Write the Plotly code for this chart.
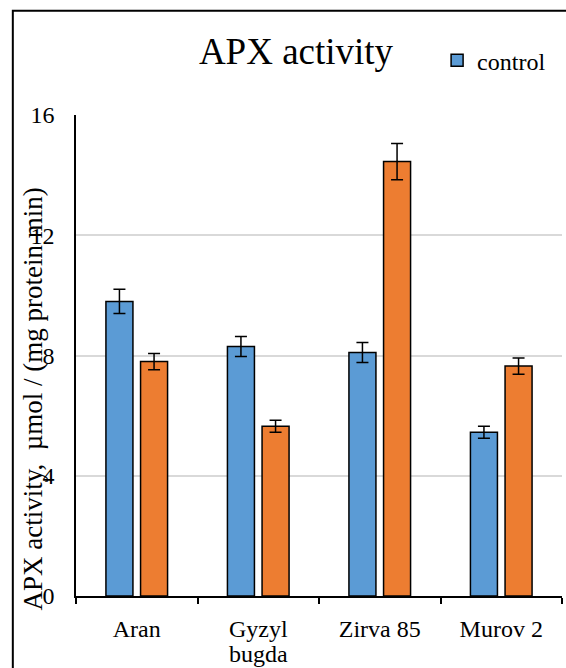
import plotly.graph_objects as go

categories = ["Aran", "Gyzyl bugda", "Zirva 85", "Murov 2"]
tick_line1 = ["Aran", "Gyzyl", "Zirva 85", "Murov 2"]
tick_line2 = ["", "bugda", "", ""]
control_values = [9.8, 8.3, 8.1, 5.45]
control_errors = [0.4, 0.33, 0.33, 0.2]
treated_values = [7.8, 5.65, 14.45, 7.65]
treated_errors = [0.27, 0.2, 0.6, 0.27]
y_ticks = [0, 4, 8, 12, 16]

FONT = "Liberation Serif"

fig = go.Figure()
fig.add_trace(go.Bar(
    x=categories, y=control_values, name="control",
    marker=dict(color="#5b9bd5", line=dict(color="black", width=1.5)),
    error_y=dict(type="data", array=control_errors, color="black", thickness=1.5, width=6),
))
fig.add_trace(go.Bar(
    x=categories, y=treated_values, name="treatment", showlegend=False,
    marker=dict(color="#ed7d31", line=dict(color="black", width=1.5)),
    error_y=dict(type="data", array=treated_errors, color="black", thickness=1.5, width=6),
))
# empty helper trace so the second-line tick axis is rendered
fig.add_trace(go.Scatter(x=[], y=[], xaxis="x2", yaxis="y", showlegend=False,
                         hoverinfo="skip", mode="markers"))

tick_font = dict(family=FONT, size=24, color="black")

fig.update_layout(
    width=566, height=668,
    margin=dict(l=76, r=4, t=115, b=72, autoexpand=False),
    paper_bgcolor="white", plot_bgcolor="white",
    barmode="group", bargap=0.43, bargroupgap=0.22,
    font=dict(family=FONT, color="black", size=24),
    title=dict(text="APX activity", font=dict(family=FONT, size=37, color="black"),
               x=0.523, xref="container", xanchor="center",
               y=0.923, yref="container", yanchor="middle"),
    legend=dict(x=0.743, y=1.113, xanchor="left", yanchor="middle",
                bgcolor="rgba(0,0,0,0)", font=dict(family=FONT, size=24)),
    xaxis=dict(type="category", range=[-0.5, 3.5], automargin=False,
               tickmode="array", tickvals=categories, ticktext=tick_line1,
               showline=True, linecolor="black", linewidth=1.5,
               ticks="outside", tickson="boundaries", ticklen=6, tickwidth=1.5, tickcolor="black",
               ticklabelstandoff=10, showgrid=False, tickfont=tick_font),
    xaxis2=dict(overlaying="x", anchor="y", side="bottom", range=[-0.5, 3.5], automargin=False,
                tickmode="array", tickvals=list(range(len(categories))), ticktext=tick_line2,
                showline=False, ticks="", showgrid=False, zeroline=False,
                ticklabelstandoff=41, tickfont=tick_font, fixedrange=True),
    yaxis=dict(range=[0, 16], tickvals=y_ticks, automargin=False,
               showline=True, linecolor="black", linewidth=1.5,
               showgrid=True, gridcolor="#d9d9d9", gridwidth=1.5,
               ticks="", ticklabelstandoff=15, zeroline=False, tickfont=tick_font),
    annotations=[dict(
        text="APX activity,\u00a0 \u00b5mol / (mg protein min)",
        xref="paper", yref="paper", x=-0.0885, y=0.4106,
        xanchor="center", yanchor="middle", textangle=-90, showarrow=False,
        font=dict(family=FONT, size=27, color="black"))],
    shapes=[dict(type="rect", xref="paper", yref="paper",
                 x0=-0.130, x1=1.2, y0=-0.3, y1=1.2166,
                 line=dict(color="black", width=2), fillcolor="rgba(0,0,0,0)", layer="above")],
)

fig.write_html("out.html", config={"displayModeBar": False},
               post_script="document.body.style.margin='0';")
